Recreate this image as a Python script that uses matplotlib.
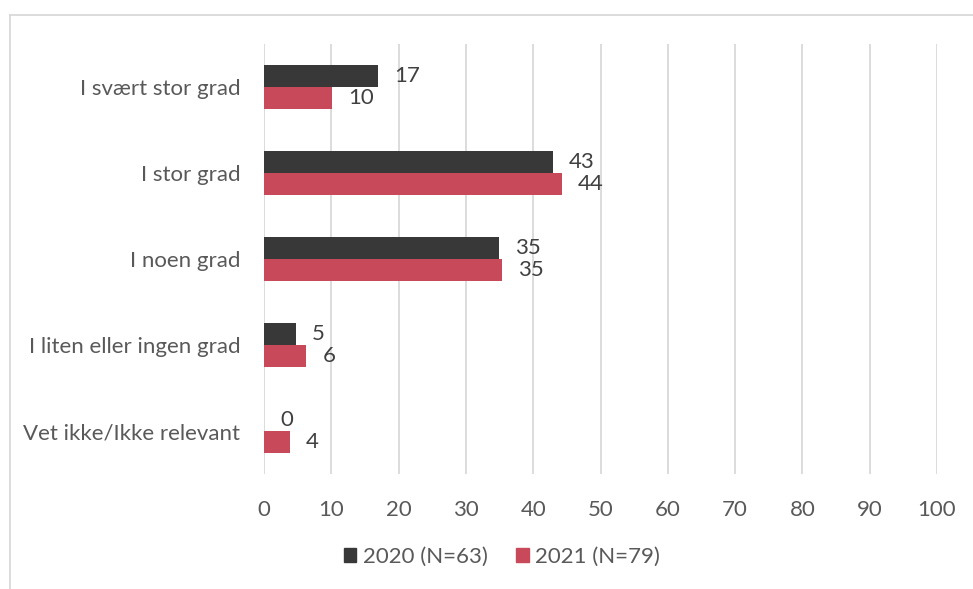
import numpy as np
import matplotlib.pyplot as plt
from matplotlib.lines import Line2D

plt.rcParams['font.family'] = ['Lato', 'DejaVu Sans']

categories = ["I svært stor grad", "I stor grad", "I noen grad",
              "I liten eller ingen grad", "Vet ikke/Ikke relevant"]
series_names = ["2020 (N=63)", "2021 (N=79)"]
values_2020 = [17.0, 42.9, 34.9, 4.8, 0.0]
values_2021 = [10.1, 44.3, 35.4, 6.3, 3.8]
labels_2020 = [17, 43, 35, 5, 0]
labels_2021 = [10, 44, 35, 6, 4]
xticks = [0, 10, 20, 30, 40, 50, 60, 70, 80, 90, 100]

dark = "#383838"
red = "#C84A5A"
text_col = "#595959"
fs = 16

fig = plt.figure(figsize=(9.73, 5.89), dpi=100)
ax = fig.add_axes([264 / 973, 1 - 474 / 589, 673 / 973, 430 / 589])

y = np.arange(len(categories))
h = 0.256
b1 = ax.barh(y - h / 2, values_2020, height=h, color=dark, label=series_names[0])
b2 = ax.barh(y + h / 2, values_2021, height=h, color=red, label=series_names[1])

for bars, labs in ((b1, labels_2020), (b2, labels_2021)):
    for bar, lab in zip(bars, labs):
        ax.annotate(str(lab), (bar.get_width(), bar.get_y() + bar.get_height() / 2),
                    xytext=(11.5, 0), textcoords="offset points",
                    ha="left", va="center", fontsize=fs, color="#404040")

ax.set_xlim(0, 100)
ax.set_ylim(len(categories) - 0.5, -0.5)
ax.set_xticks(xticks)
ax.set_yticks(y)
ax.set_yticklabels(categories)
ax.tick_params(length=0, labelsize=fs, colors=text_col)
ax.tick_params(axis="x", pad=19)
ax.tick_params(axis="y", pad=17)
ax.grid(axis="x", color="#D9D9D9", linewidth=1.3)
ax.set_axisbelow(True)
for s in ax.spines.values():
    s.set_visible(False)

handles = [plt.Rectangle((0, 0), 1, 1, color=dark), plt.Rectangle((0, 0), 1, 1, color=red)]
fig.legend(handles, series_names, loc="center", bbox_to_anchor=(502 / 973, 1 - 557 / 589),
           ncol=2, frameon=False, fontsize=fs, labelcolor=text_col,
           handlelength=0.55, handleheight=0.55, handletextpad=0.3, columnspacing=1.3)

# outer chart border (cropped on the right and bottom)
fig.add_artist(Line2D([10 / 973, 1], [1 - 15 / 589, 1 - 15 / 589], color="#D9D9D9", lw=1.3))
fig.add_artist(Line2D([10 / 973, 10 / 973], [0, 1 - 15 / 589], color="#D9D9D9", lw=1.3))

fig.savefig("out.png", dpi=100)
